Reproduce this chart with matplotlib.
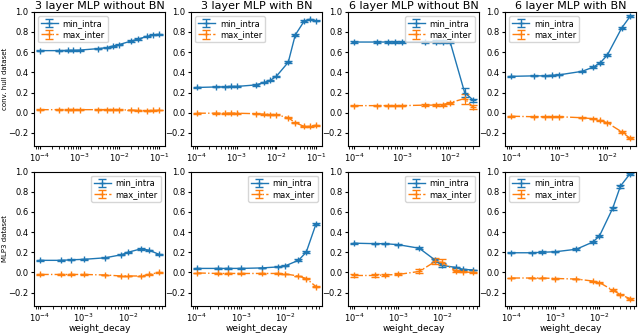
import matplotlib
matplotlib.use("Agg")
import matplotlib.pyplot as plt
import numpy as np

# weight decay grids
wd_top3 = [1e-4, 3e-4, 5e-4, 7e-4, 1e-3, 3e-3, 5e-3, 7e-3, 1e-2, 2e-2, 3e-2, 5e-2, 7e-2, 1e-1]
wd_top6 = [1e-4, 3e-4, 5e-4, 7e-4, 1e-3, 3e-3, 5e-3, 7e-3, 1e-2, 2e-2, 3e-2]
wd_bot = [1e-4, 3e-4, 5e-4, 1e-3, 3e-3, 7e-3, 1e-2, 2e-2, 3e-2, 5e-2]

titles = ["3 layer MLP without BN", "3 layer MLP with BN",
          "6 layer MLP without BN", "6 layer MLP with BN"]
row_labels = ["conv. hull dataset", "MLP3 dataset"]

# conv. hull dataset
ch3_intra = [0.615, 0.615, 0.617, 0.618, 0.62, 0.635, 0.645, 0.66, 0.675, 0.71, 0.73, 0.755, 0.77, 0.775]
ch3_intra_err = [0.006, 0.005, 0.005, 0.005, 0.005, 0.006, 0.006, 0.005, 0.006, 0.006, 0.006, 0.005, 0.005, 0.005]
ch3_inter = [0.03, 0.03, 0.03, 0.03, 0.03, 0.03, 0.03, 0.03, 0.03, 0.025, 0.022, 0.02, 0.022, 0.025]
ch3_inter_err = [0.003, 0.003, 0.003, 0.003, 0.003, 0.003, 0.003, 0.003, 0.003, 0.003, 0.003, 0.003, 0.003, 0.003]

ch3bn_intra = [0.25, 0.255, 0.255, 0.26, 0.26, 0.275, 0.30, 0.32, 0.36, 0.50, 0.77, 0.905, 0.925, 0.91]
ch3bn_intra_err = [0.006, 0.005, 0.005, 0.005, 0.005, 0.006, 0.006, 0.006, 0.008, 0.01, 0.012, 0.01, 0.008, 0.006]
ch3bn_inter = [-0.005, -0.005, -0.005, -0.005, -0.005, -0.01, -0.015, -0.018, -0.02, -0.05, -0.10, -0.135, -0.135, -0.125]
ch3bn_inter_err = [0.003, 0.003, 0.003, 0.003, 0.003, 0.003, 0.003, 0.003, 0.004, 0.005, 0.006, 0.005, 0.004, 0.004]

ch6_intra = [0.70, 0.70, 0.70, 0.70, 0.70, 0.70, 0.705, 0.705, 0.70, 0.20, 0.125]
ch6_intra_err = [0.008, 0.01, 0.01, 0.01, 0.01, 0.01, 0.012, 0.012, 0.012, 0.045, 0.015]
ch6_inter = [0.07, 0.07, 0.07, 0.07, 0.07, 0.075, 0.075, 0.08, 0.10, 0.14, 0.055]
ch6_inter_err = [0.008, 0.008, 0.008, 0.008, 0.008, 0.008, 0.008, 0.01, 0.01, 0.05, 0.02]

ch6bn_intra = [0.36, 0.365, 0.365, 0.37, 0.375, 0.41, 0.45, 0.49, 0.57, 0.84, 0.955]
ch6bn_intra_err = [0.005, 0.005, 0.005, 0.005, 0.005, 0.008, 0.01, 0.012, 0.012, 0.01, 0.008]
ch6bn_inter = [-0.035, -0.04, -0.04, -0.04, -0.04, -0.05, -0.06, -0.075, -0.10, -0.19, -0.255]
ch6bn_inter_err = [0.003, 0.003, 0.003, 0.003, 0.003, 0.004, 0.004, 0.005, 0.006, 0.01, 0.01]

# MLP3 dataset
m3_intra = [0.12, 0.12, 0.125, 0.13, 0.145, 0.175, 0.20, 0.235, 0.22, 0.18]
m3_intra_err = [0.006, 0.006, 0.005, 0.005, 0.005, 0.006, 0.006, 0.008, 0.006, 0.006]
m3_inter = [-0.02, -0.02, -0.02, -0.02, -0.025, -0.035, -0.035, -0.035, -0.02, 0.0]
m3_inter_err = [0.003, 0.003, 0.003, 0.003, 0.003, 0.003, 0.003, 0.003, 0.004, 0.003]

m3bn_intra = [0.04, 0.04, 0.04, 0.04, 0.045, 0.055, 0.065, 0.12, 0.20, 0.48]
m3bn_intra_err = [0.004, 0.004, 0.004, 0.004, 0.004, 0.005, 0.006, 0.01, 0.012, 0.012]
m3bn_inter = [-0.005, -0.01, -0.01, -0.01, -0.01, -0.01, -0.015, -0.035, -0.06, -0.14]
m3bn_inter_err = [0.003, 0.003, 0.003, 0.003, 0.003, 0.003, 0.003, 0.004, 0.006, 0.008]

m6_intra = [0.29, 0.285, 0.285, 0.275, 0.24, 0.12, 0.07, 0.05, 0.03, 0.025]
m6_intra_err = [0.005, 0.005, 0.005, 0.006, 0.012, 0.015, 0.02, 0.008, 0.005, 0.004]
m6_inter = [-0.03, -0.03, -0.025, -0.02, 0.01, 0.11, 0.10, 0.015, 0.005, 0.0]
m6_inter_err = [0.012, 0.012, 0.012, 0.01, 0.02, 0.03, 0.03, 0.01, 0.005, 0.004]

m6bn_intra = [0.195, 0.195, 0.20, 0.205, 0.23, 0.30, 0.36, 0.635, 0.855, 0.98]
m6bn_intra_err = [0.005, 0.005, 0.008, 0.006, 0.008, 0.01, 0.012, 0.015, 0.015, 0.01]
m6bn_inter = [-0.055, -0.055, -0.055, -0.06, -0.065, -0.085, -0.10, -0.175, -0.22, -0.26]
m6bn_inter_err = [0.003, 0.003, 0.003, 0.003, 0.004, 0.005, 0.006, 0.008, 0.008, 0.008]

panels = [
    [(wd_top3, ch3_intra, ch3_intra_err, ch3_inter, ch3_inter_err),
     (wd_top3, ch3bn_intra, ch3bn_intra_err, ch3bn_inter, ch3bn_inter_err),
     (wd_top6, ch6_intra, ch6_intra_err, ch6_inter, ch6_inter_err),
     (wd_top6, ch6bn_intra, ch6bn_intra_err, ch6bn_inter, ch6bn_inter_err)],
    [(wd_bot, m3_intra, m3_intra_err, m3_inter, m3_inter_err),
     (wd_bot, m3bn_intra, m3bn_intra_err, m3bn_inter, m3bn_inter_err),
     (wd_bot, m6_intra, m6_intra_err, m6_inter, m6_inter_err),
     (wd_bot, m6bn_intra, m6bn_intra_err, m6bn_inter, m6bn_inter_err)],
]
legend_locs = [["upper left", "upper left", "upper right", "upper left"],
               ["upper right", "upper right", "upper right", "upper left"]]

fig, axes = plt.subplots(2, 4, figsize=(6.4, 3.36), dpi=100)
fig.subplots_adjust(left=0.053, right=0.994, top=0.965, bottom=0.09, wspace=0.2, hspace=0.19)

for r in range(2):
    for c in range(4):
        ax = axes[r, c]
        x, yi, ei, yo, eo = panels[r][c]
        ax.errorbar(x, yi, yerr=ei, marker='+', markersize=4, linewidth=1.0,
                    capsize=3, elinewidth=0.8, label='min_intra', color='C0')
        ax.errorbar(x, yo, yerr=eo, marker='+', markersize=4, linewidth=1.0, linestyle='-.',
                    capsize=3, elinewidth=0.8, label='max_inter', color='C1')
        ax.set_xscale('log')
        ax.set_ylim(-0.33, 1.0)
        ax.set_yticks([-0.2, 0.0, 0.2, 0.4, 0.6, 0.8, 1.0])
        ax.tick_params(labelsize=6, length=2.5, pad=1.5)
        ax.legend(loc=legend_locs[r][c], fontsize=6, handlelength=2.0, borderpad=0.35,
                  labelspacing=0.3, handletextpad=0.6)
        if r == 0:
            ax.set_title(titles[c], fontsize=8, pad=2)
        else:
            ax.set_xlabel('weight_decay', fontsize=6.5, labelpad=0.5)
        if c == 0:
            ax.set_ylabel(row_labels[r], fontsize=5)
            ax.yaxis.set_label_coords(-0.2, 0.5)

fig.savefig('out.png', dpi=100)
